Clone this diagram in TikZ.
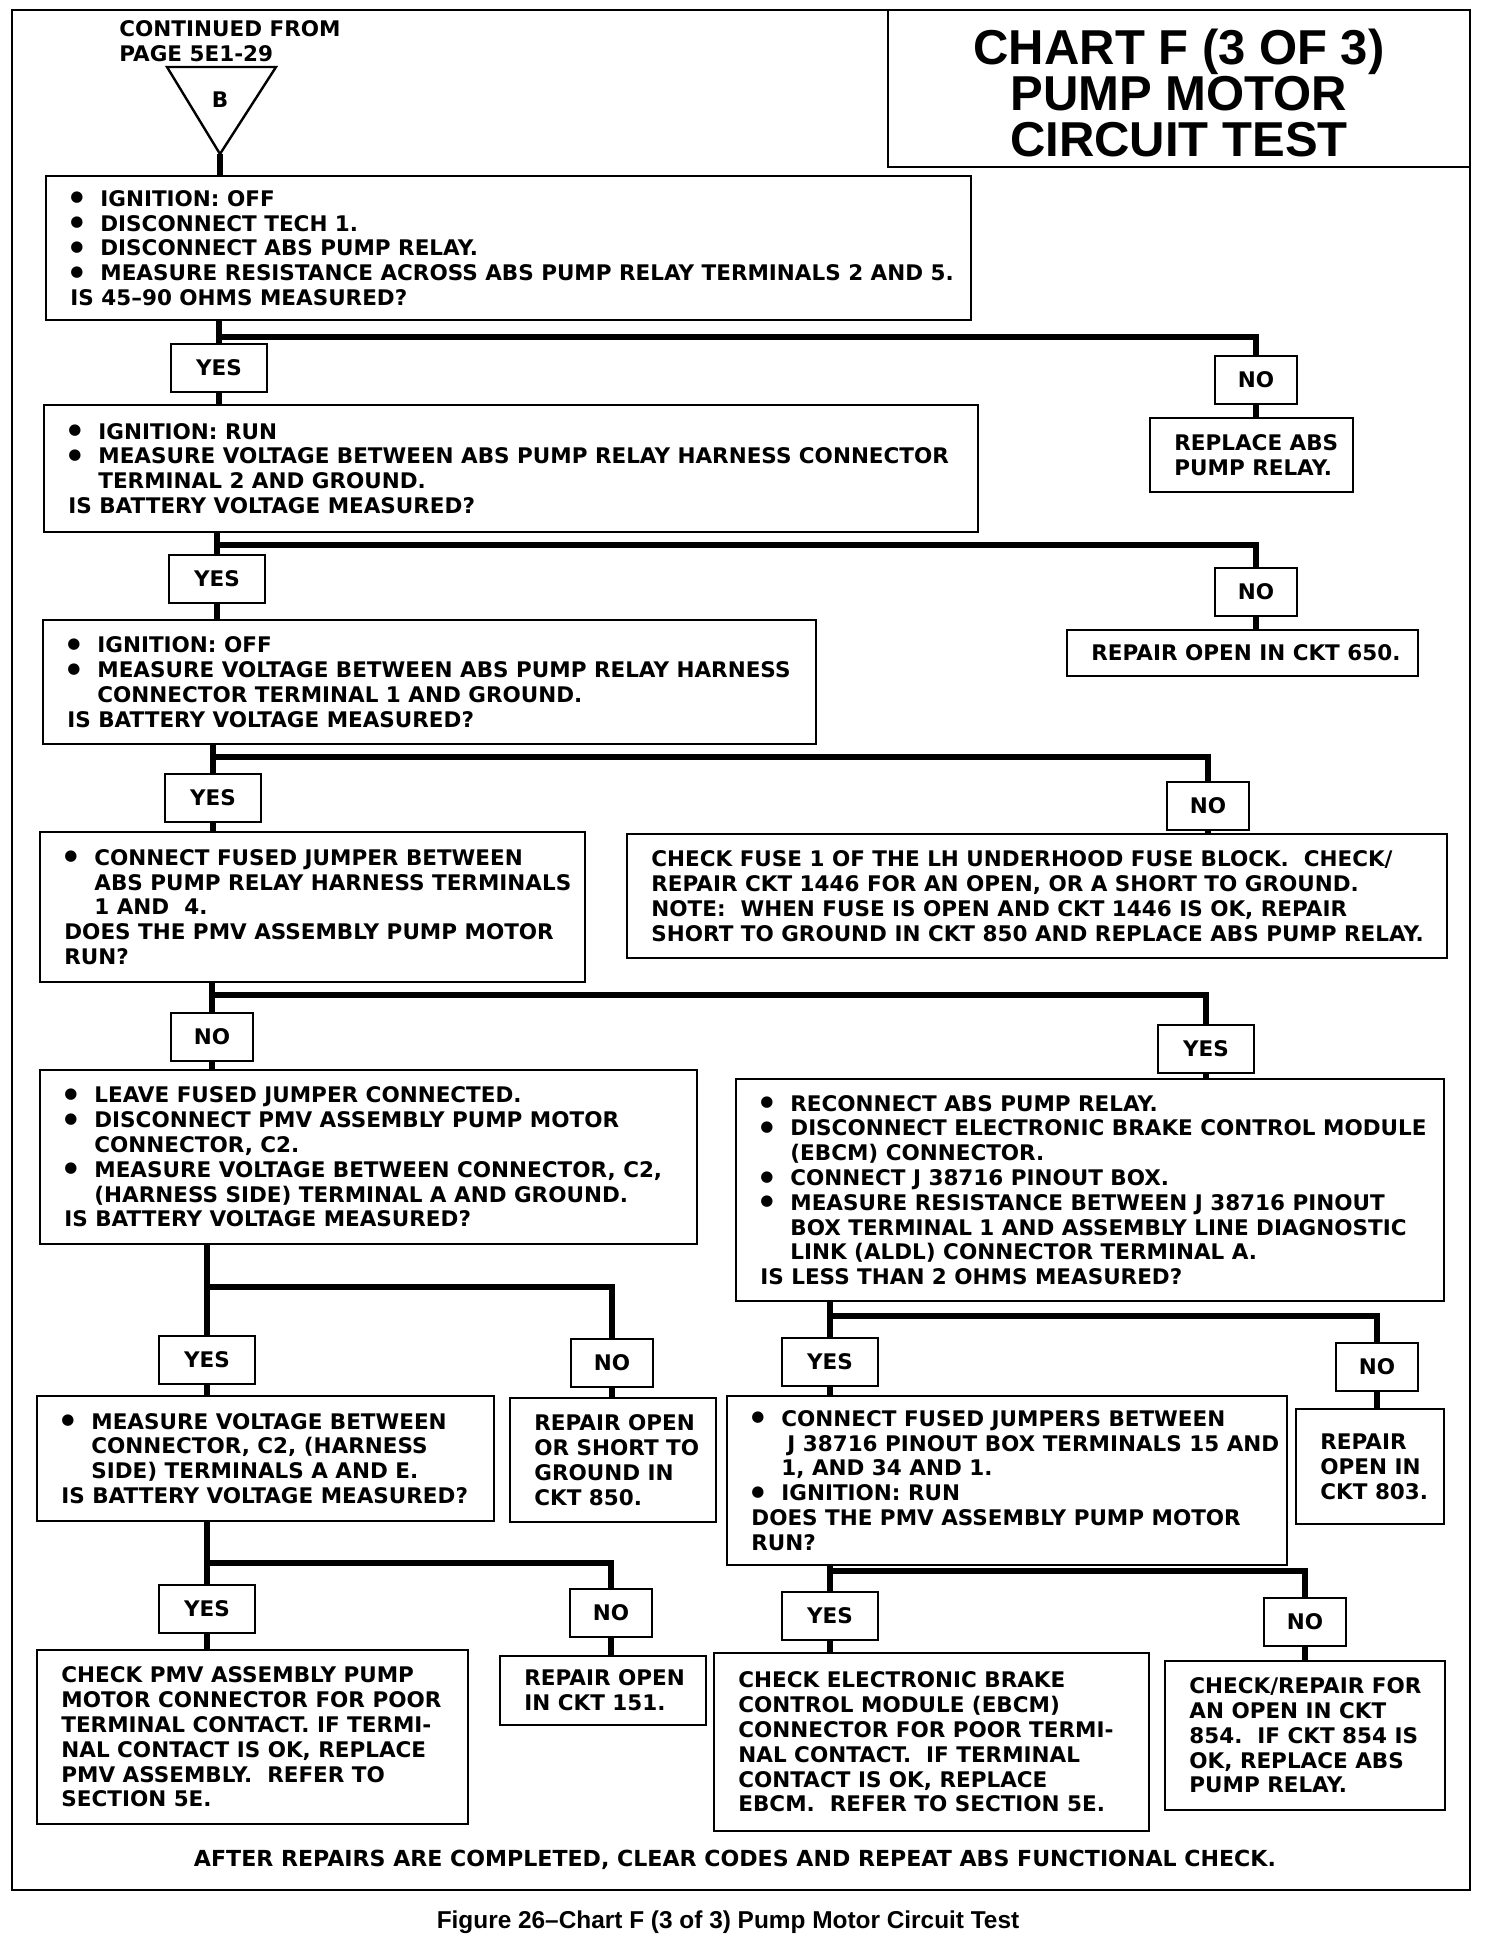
\documentclass[tikz,border=0pt]{standalone}
\usepackage{fontspec}
\setmainfont{DejaVu Sans}
\newfontfamily\titlefont{Liberation Sans}
\usetikzlibrary{calc}

\newcommand\bodyfnt{\fontsize{10.75}{12.4}\selectfont\bfseries}
\newcommand\footfnt{\fontsize{11.05}{12.4}\selectfont\bfseries}
\newcommand\titlefnt{\titlefont\fontsize{24.5}{23}\selectfont\bfseries}
\newcommand\capfnt{\titlefont\fontsize{12.2}{14}\selectfont\bfseries}
\newcommand\bul{\makebox[15pt][l]{{\fontsize{7.5}{7.5}\selectfont\raisebox{2.2pt}{●}}}}
\newcommand\ind{\hspace*{15pt}}

\tikzset{
  bx/.style={draw, line width=1.2pt, rectangle, inner sep=0pt, outer sep=0pt, anchor=north west, fill=white},
  tx/.style={inner sep=0pt, align=left, anchor=west, font=\bodyfnt},
  lab/.style={draw, line width=1.2pt, fill=white, inner sep=0pt, outer sep=0pt, font=\bodyfnt, minimum height=24pt},
  yesbox/.style={lab, minimum width=48pt},
  nobox/.style={lab, minimum width=41pt},
  conn/.style={line width=3pt, line join=miter},
}

\newcommand\flowbox[6]{%
  \node[bx, minimum width={(#4-#2)*0.5pt}, minimum height={(#5-#3)*0.5pt}] (#1) at (#2,#3) {};
  \node[tx] (#1t) at ([xshift=12pt]#1.west) {#6};
}

\begin{document}
\begin{tikzpicture}[x=0.5pt, y=-0.5pt]
\useasboundingbox (0,0) rectangle (1504,1934);
\fill[white] (0,0) rectangle (1504,1934);

% outer frame
\draw[line width=1.2pt] (12,10) rectangle (1470,1890);

% title
\node[bx, minimum width={(1470-888)*0.5pt}, minimum height={(167-10)*0.5pt}] (title) at (888,10) {};
\node[font=\titlefnt, align=center, inner sep=0pt] (titlet) at ([yshift=-2pt]title.center) {CHART F (3 OF 3)\\PUMP MOTOR\\CIRCUIT TEST};

% entry
\node[anchor=north west, inner sep=0pt, align=left, font=\bodyfnt] (cont) at (119,20) {CONTINUED FROM\\PAGE 5E1-29};
\draw[line width=1.2pt, line join=miter] (167,67) -- (276,67) -- (220,154) -- cycle;
\coordinate (tri) at (220,154);
\node[font=\bodyfnt, inner sep=0pt] (bl) at (220,100) {B};

% boxes
\flowbox{q1}{46}{176}{971}{320}{\bul IGNITION: OFF\\
\bul DISCONNECT TECH 1.\\
\bul DISCONNECT ABS PUMP RELAY.\\
\bul MEASURE RESISTANCE ACROSS ABS PUMP RELAY TERMINALS 2 AND 5.\\
IS 45–90 OHMS MEASURED?}

\flowbox{q2}{44}{405}{978}{532}{\bul IGNITION: RUN\\
\bul MEASURE VOLTAGE BETWEEN ABS PUMP RELAY HARNESS CONNECTOR\\
\ind TERMINAL 2 AND GROUND.\\
IS BATTERY VOLTAGE MEASURED?}

\flowbox{r1}{1150}{418}{1353}{492}{REPLACE ABS\\PUMP RELAY.}

\flowbox{q3}{43}{620}{816}{744}{\bul IGNITION: OFF\\
\bul MEASURE VOLTAGE BETWEEN ABS PUMP RELAY HARNESS\\
\ind CONNECTOR TERMINAL 1 AND GROUND.\\
IS BATTERY VOLTAGE MEASURED?}

\flowbox{r2}{1067}{630}{1418}{676}{REPAIR OPEN IN CKT 650.}

\flowbox{q4}{40}{832}{585}{982}{\bul CONNECT FUSED JUMPER BETWEEN\\
\ind ABS PUMP RELAY HARNESS TERMINALS\\
\ind 1 AND\ \ 4.\\
DOES THE PMV ASSEMBLY PUMP MOTOR\\
RUN?}

\flowbox{r3}{627}{834}{1447}{958}{CHECK FUSE 1 OF THE LH UNDERHOOD FUSE BLOCK.\ \ CHECK/\\
REPAIR CKT 1446 FOR AN OPEN, OR A SHORT TO GROUND.\\
NOTE:\ \ WHEN FUSE IS OPEN AND CKT 1446 IS OK, REPAIR\\
SHORT TO GROUND IN CKT 850 AND REPLACE ABS PUMP RELAY.}

\flowbox{q5}{40}{1070}{697}{1244}{\bul LEAVE FUSED JUMPER CONNECTED.\\
\bul DISCONNECT PMV ASSEMBLY PUMP MOTOR\\
\ind CONNECTOR, C2.\\
\bul MEASURE VOLTAGE BETWEEN CONNECTOR, C2,\\
\ind (HARNESS SIDE) TERMINAL A AND GROUND.\\
IS BATTERY VOLTAGE MEASURED?}

\flowbox{q6}{736}{1079}{1444}{1301}{\bul RECONNECT ABS PUMP RELAY.\\
\bul DISCONNECT ELECTRONIC BRAKE CONTROL MODULE\\
\ind (EBCM) CONNECTOR.\\
\bul CONNECT J 38716 PINOUT BOX.\\
\bul MEASURE RESISTANCE BETWEEN J 38716 PINOUT\\
\ind BOX TERMINAL 1 AND ASSEMBLY LINE DIAGNOSTIC\\
\ind LINK (ALDL) CONNECTOR TERMINAL A.\\
IS LESS THAN 2 OHMS MEASURED?}

\flowbox{q7}{37}{1396}{494}{1521}{\bul MEASURE VOLTAGE BETWEEN\\
\ind CONNECTOR, C2, (HARNESS\\
\ind SIDE) TERMINALS A AND E.\\
IS BATTERY VOLTAGE MEASURED?}

\flowbox{r4}{510}{1398}{716}{1522}{REPAIR OPEN\\OR SHORT TO\\GROUND IN\\CKT 850.}

\flowbox{q9}{727}{1396}{1287}{1565}{\bul CONNECT FUSED JUMPERS BETWEEN\\
\ind\hspace*{3pt}J 38716 PINOUT BOX TERMINALS 15 AND\\
\ind 1, AND 34 AND 1.\\
\bul IGNITION: RUN\\
DOES THE PMV ASSEMBLY PUMP MOTOR\\
RUN?}

\flowbox{r5}{1296}{1409}{1444}{1524}{REPAIR\\OPEN IN\\CKT 803.}

\flowbox{r6}{37}{1650}{468}{1824}{CHECK PMV ASSEMBLY PUMP\\
MOTOR CONNECTOR FOR POOR\\
TERMINAL CONTACT. IF TERMI-\\
NAL CONTACT IS OK, REPLACE\\
PMV ASSEMBLY.\ \ REFER TO\\
SECTION 5E.}

\flowbox{r7}{500}{1656}{706}{1725}{REPAIR OPEN\\IN CKT 151.}

\flowbox{r8}{714}{1653}{1149}{1831}{CHECK ELECTRONIC BRAKE\\
CONTROL MODULE (EBCM)\\
CONNECTOR FOR POOR TERMI-\\
NAL CONTACT.\ \ IF TERMINAL\\
CONTACT IS OK, REPLACE\\
EBCM.\ \ REFER TO SECTION 5E.}

\flowbox{r9}{1165}{1661}{1445}{1810}{CHECK/REPAIR FOR\\
AN OPEN IN CKT\\
854.\ \ IF CKT 854 IS\\
OK, REPLACE ABS\\
PUMP RELAY.}

% labels
\node[yesbox] (y1) at (219,368) {YES};
\node[nobox]  (n1) at (1256,380) {NO};
\coordinate (h1) at (219,337);
\node[yesbox] (y2) at (217,579) {YES};
\node[nobox]  (n2) at (1256,592) {NO};
\coordinate (h2) at (217,545);
\node[yesbox] (y3) at (213,798) {YES};
\node[nobox]  (n3) at (1208,806) {NO};
\coordinate (h3) at (213,757);
\node[nobox]  (n4) at (212,1037) {NO};
\node[yesbox] (y4) at (1206,1049) {YES};
\coordinate (h4) at (212,995);
\node[yesbox] (y5) at (207,1360) {YES};
\node[nobox]  (n5) at (612,1363) {NO};
\coordinate (h5) at (207,1287);
\node[yesbox] (y6) at (830,1362) {YES};
\node[nobox]  (n6) at (1377,1367) {NO};
\coordinate (h6) at (830,1316);
\node[yesbox] (y7) at (207,1609) {YES};
\node[nobox]  (n7) at (611,1613) {NO};
\coordinate (h7) at (207,1563);
\node[yesbox] (y9) at (830,1616) {YES};
\node[nobox]  (n9) at (1305,1622) {NO};
\coordinate (h9) at (830,1571);

% connectors
\draw[conn] (tri) -- (tri |- q1.north);

\draw[conn] (y1.north |- q1.south) -- (y1.north);
\draw[conn] (h1) -| (n1.north);
\draw[conn] (y1.south) -- (y1.south |- q2.north);
\draw[conn] (n1.south) -- (n1.south |- r1.north);

\draw[conn] (y2.north |- q2.south) -- (y2.north);
\draw[conn] (h2) -| (n2.north);
\draw[conn] (y2.south) -- (y2.south |- q3.north);
\draw[conn] (n2.south) -- (n2.south |- r2.north);

\draw[conn] (y3.north |- q3.south) -- (y3.north);
\draw[conn] (h3) -| (n3.north);
\draw[conn] (y3.south) -- (y3.south |- q4.north);
\draw[conn] (n3.south) -- (n3.south |- r3.north);

\draw[conn] (n4.north |- q4.south) -- (n4.north);
\draw[conn] (h4) -| (y4.north);
\draw[conn] (n4.south) -- (n4.south |- q5.north);
\draw[conn] (y4.south) -- (y4.south |- q6.north);

\draw[conn] (y5.north |- q5.south) -- (y5.north);
\draw[conn] (h5) -| (n5.north);
\draw[conn] (y5.south) -- (y5.south |- q7.north);
\draw[conn] (n5.south) -- (n5.south |- r4.north);

\draw[conn] (y6.north |- q6.south) -- (y6.north);
\draw[conn] (h6) -| (n6.north);
\draw[conn] (y6.south) -- (y6.south |- q9.north);
\draw[conn] (n6.south) -- (n6.south |- r5.north);

\draw[conn] (y7.north |- q7.south) -- (y7.north);
\draw[conn] (h7) -| (n7.north);
\draw[conn] (y7.south) -- (y7.south |- r6.north);
\draw[conn] (n7.south) -- (n7.south |- r7.north);

\draw[conn] (y9.north |- q9.south) -- (y9.north);
\draw[conn] (h9) -| (n9.north);
\draw[conn] (y9.south) -- (y9.south |- r8.north);
\draw[conn] (n9.south) -- (n9.south |- r9.north);

% footer and caption
\node[font=\footfnt, inner sep=0pt] (foot) at (735,1860) {AFTER REPAIRS ARE COMPLETED, CLEAR CODES AND REPEAT ABS FUNCTIONAL CHECK.};
\node[font=\capfnt, inner sep=0pt] (cap) at (728,1922) {Figure 26–Chart F (3 of 3) Pump Motor Circuit Test};
\end{tikzpicture}
\end{document}
